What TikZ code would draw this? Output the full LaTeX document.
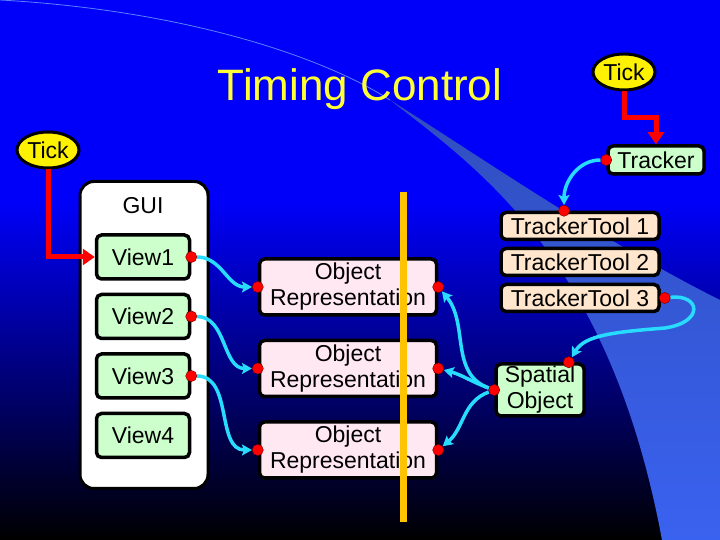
\documentclass[tikz,border=0pt]{standalone}
\usepackage{fontspec}
\setmainfont{Liberation Sans}
\usetikzlibrary{shapes.geometric, arrows.meta, positioning}

\definecolor{bgblue}{RGB}{0,0,250}
\definecolor{swoosh}{RGB}{58,98,240}
\definecolor{swooshtop}{RGB}{48,78,190}
\definecolor{swooshline}{RGB}{90,130,255}
\definecolor{titleyellow}{RGB}{255,255,51}
\definecolor{viewgreen}{RGB}{204,255,204}
\definecolor{toolpeach}{RGB}{255,230,204}
\definecolor{reppink}{RGB}{255,232,242}
\definecolor{linkcyan}{RGB}{40,220,255}
\definecolor{barorange}{RGB}{255,196,0}

\begin{document}
\begin{tikzpicture}[
    x=1pt, y=1pt,
    font=\fontsize{23}{26}\selectfont,
    node distance=12pt,
    box/.style={rectangle, rounded corners=5pt, draw=black, line width=3.5pt, align=center, inner sep=1pt},
    viewbox/.style={box, fill=viewgreen, minimum width=93pt, minimum height=44pt},
    toolbox/.style={box, fill=toolpeach, minimum width=158pt, minimum height=27pt},
    repbox/.style={box, fill=reppink, minimum width=177pt, minimum height=56pt},
    guibox/.style={rectangle, rounded corners=14pt, draw=black, line width=3pt, fill=white, minimum width=128pt, minimum height=307pt},
    tickball/.style={ellipse, draw=black, line width=3pt, fill=yellow, inner sep=0pt, minimum width=62pt, minimum height=36pt},
    reddot/.style={circle, fill=red, draw=red!50!black, line width=0.6pt, inner sep=0pt, minimum size=11pt},
    cyanarrow/.style={draw=linkcyan, line width=3.5pt, -{Stealth[length=10pt, width=11pt, inset=2pt]}},
    redarrow/.style={draw=red, line width=5pt, -{Triangle[length=12pt, width=16pt]}},
    barline/.style={draw=barorange, line width=7pt}
]
\useasboundingbox (0,0) rectangle (720,540);

% Background
\fill [bgblue] (0,340) rectangle (720,540);
\shade [top color=bgblue, bottom color=black] (0,0) rectangle (720,340);
\shade [top color=swooshtop, middle color=swoosh, bottom color=swoosh]
    (390,440) .. controls (480,370) and (610,280) .. (662,0) -- (720,0) -- (720,240)
    .. controls (600,300) and (470,390) .. (390,440) -- cycle;
\draw [swooshline, line width=0.8pt] (0,540) .. controls (180,530) and (320,485) .. (390,440);

% Nodes
\node (title) at (360,451) [font=\fontsize{44}{50}\selectfont, text=titleyellow] {Timing Control};
\node (tickgui) [tickball] at (48,390) {Tick};
\node (ticktrk) [tickball] at (624,468) {Tick};

\node (gui) [guibox] at (144,205) {};
\node (guititle) at (143,334) {GUI};
\node (view1) [viewbox] at (143,283) {View1};
\node (view2) [viewbox, below=of view1] {View2};
\node (view3) [viewbox, below=of view2] {View3};
\node (view4) [viewbox, below=of view3] {View4};

\node (rep1) [repbox] at (348,253) {Object\\Representation};
\node (rep2) [repbox, below=22pt of rep1] {Object\\Representation};
\node (rep3) [repbox, below=22pt of rep2] {Object\\Representation};

\node (tracker) [box, fill=viewgreen, minimum width=96pt, minimum height=28pt] at (656,380) {Tracker};
\node (tool1) [toolbox] at (580,314) {TrackerTool 1};
\node (tool2) [toolbox, below=5.5pt of tool1] {TrackerTool 2};
\node (tool3) [toolbox, below=5.5pt of tool2] {TrackerTool 3};
\node (spatial) [box, fill=viewgreen, minimum width=88pt, minimum height=52pt] at (540,150) {Spatial\\Object};

% Ports
\node (v1out) [reddot] at (view1.east) {};
\node (v2out) [reddot] at (view2.east) {};
\node (v3out) [reddot] at (view3.east) {};
\node (r1in) [reddot] at (rep1.west) {};
\node (r2in) [reddot] at (rep2.west) {};
\node (r3in) [reddot] at (rep3.west) {};
\node (r1out) [reddot] at (rep1.east) {};
\node (r2out) [reddot] at (rep2.east) {};
\node (r3out) [reddot] at (rep3.east) {};
\node (trkout) [reddot] at (tracker.west) {};
\node (t1in) [reddot] at ([xshift=-16pt]tool1.north) {};
\node (t3out) [reddot] at ([xshift=4pt]tool3.east) {};
\node (spin) [reddot] at ([xshift=-17pt]spatial.north east) {};
\node (spout) [reddot] at (spatial.west) {};

% Arrows
\draw [redarrow] (tickgui) |- (view1);
\draw [redarrow] (ticktrk.south) -- ++(0,-26) -| (tracker.north);
\draw [cyanarrow] (v1out) to[out=0, in=180] (r1in);
\draw [cyanarrow] (v2out) to[out=0, in=180] (r2in);
\draw [cyanarrow] (v3out) to[out=0, in=180] (r3in);
\draw [cyanarrow] (trkout) to[out=180, in=90] (t1in);
\draw [cyanarrow] (t3out) .. controls (700,246) and (705,218) .. (665,212)
    .. controls (615,208) and (585,205) .. (spin);
\draw [cyanarrow] (spout) to[out=160, in=-50] (r1out);
\draw [cyanarrow] (spout) to[out=160, in=-15] (r2out);
\draw [cyanarrow] (spout) to[out=200, in=40] (r3out);

% redraw ports over the lines
\foreach \p in {v1out,v2out,v3out,r1in,r2in,r3in,r1out,r2out,r3out,trkout,t1in,t3out,spin,spout}
    \fill [red] (\p) circle (5pt);

% Separator
\draw [barline] (403,348) -- (403,18);

\end{tikzpicture}
\end{document}
